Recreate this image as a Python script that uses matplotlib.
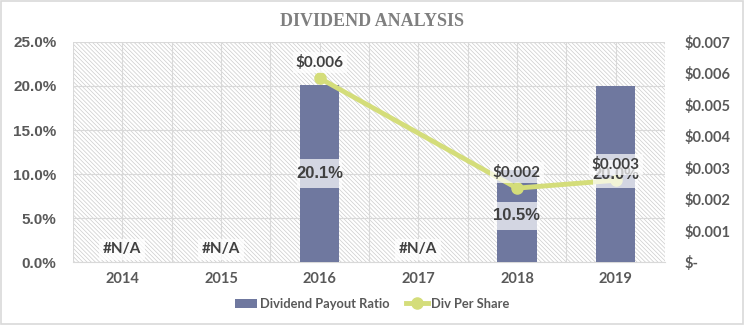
import numpy as np
import matplotlib
matplotlib.use("Agg")
import matplotlib.pyplot as plt
from matplotlib.patches import Rectangle, Patch
from matplotlib.lines import Line2D
from matplotlib.path import Path
from matplotlib.ticker import FuncFormatter

years = ["2014", "2015", "2016", "2017", "2018", "2019"]
payout_ratio = [np.nan, np.nan, 20.1, np.nan, 10.5, 20.0]   # %
div_per_share = [np.nan, np.nan, 0.00585, np.nan, 0.00235, 0.0026]  # $

BAR_COLOR = "#6f789f"
LINE_COLOR = "#d4dd7a"
GRID = "#d9d9d9"
TXT = "#595959"
LABEL_TXT = "#404040"
CAL = ["Lato", "DejaVu Sans"]
ARIAL = ["Liberation Sans", "DejaVu Sans"]

plt.rcParams["hatch.linewidth"] = 0.5


def tall_box(x0, y0, width, height, mutation_size):
    # label box: little side padding, more on top/bottom (like Excel)
    px, py = -0.05 * mutation_size, 0.4 * mutation_size
    x0, x1 = x0 - px, x0 + width + px
    y0, y1 = y0 - py, y0 + height + py
    return Path([(x0, y0), (x1, y0), (x1, y1), (x0, y1), (x0, y0)], closed=True)


def main():
    fig = plt.figure(figsize=(7.44, 3.25), dpi=100)
    ax1 = fig.add_axes([0.0981, 0.1938, 0.7957, 0.677])
    ax2 = ax1.twinx()

    x = np.arange(len(years))
    pr = np.array(payout_ratio)
    dps = np.array(div_per_share)

    # hatched plot background
    ax1.add_patch(Rectangle((0, 0), 1, 1, transform=ax1.transAxes, facecolor="white",
                            edgecolor="#cccccc", hatch="\\" * 8, linewidth=0, zorder=0))

    ax1.bar(x, np.nan_to_num(pr), width=0.4, color=BAR_COLOR, zorder=3)
    ax1.set_xlim(-0.5, len(years) - 0.5)
    ax1.set_ylim(0, 25)
    ax1.set_yticks(np.arange(0, 26, 5))
    ax1.yaxis.set_major_formatter(FuncFormatter(lambda v, p: f"{v:.1f}%"))
    ax1.set_xticks(x)
    ax1.set_xticklabels(years)
    ax1.set_xticks(np.arange(-0.5, len(years), 1.0), minor=True)
    ax1.grid(True, which="both", axis="x", color=GRID, linewidth=0.8, zorder=1)
    ax1.grid(True, which="major", axis="y", color=GRID, linewidth=0.8, zorder=1)
    ax1.set_axisbelow(True)
    ax1.tick_params(which="both", length=0)
    ax1.tick_params(axis="x", pad=7)
    ax1.tick_params(axis="y", pad=12)
    for lab in ax1.get_yticklabels():
        lab.set_fontfamily(ARIAL)
        lab.set_fontweight("bold")
        lab.set_fontsize(11)
        lab.set_color(TXT)
    for lab in ax1.get_xticklabels():
        lab.set_fontfamily(CAL)
        lab.set_fontweight("bold")
        lab.set_fontsize(10.5)
        lab.set_color(TXT)

    ok = ~np.isnan(dps)
    ax2.plot(x[ok], dps[ok], color=LINE_COLOR, linewidth=3.5, marker="o",
             markersize=8, solid_capstyle="round", zorder=4)
    ax2.set_ylim(0, 0.007)
    ax2.set_yticks(np.arange(0, 0.0071, 0.001))
    ax2.yaxis.set_major_formatter(FuncFormatter(lambda v, p: "$-" if abs(v) < 1e-9 else f"${v:.3f}"))
    ax2.tick_params(length=0, pad=14)
    for lab in ax2.get_yticklabels():
        lab.set_fontfamily(CAL)
        lab.set_fontweight("bold")
        lab.set_fontsize(10.5)
        lab.set_color(TXT)

    for ax in (ax1, ax2):
        for s in ax.spines.values():
            s.set_visible(False)
    ax1.spines["bottom"].set_visible(True)
    ax1.spines["bottom"].set_color(GRID)

    # bar data labels
    for xi, v in zip(x, pr):
        if np.isnan(v):
            ax2.annotate("#N/A", (xi, 0), xycoords=ax1.transData, xytext=(0, 4),
                         textcoords="offset points", ha="center", va="bottom",
                         fontfamily=CAL, fontweight="bold", fontsize=11, color=LABEL_TXT,
                         bbox=dict(boxstyle="square,pad=0.25", fc="white", ec="none", alpha=0.75),
                         zorder=6)
        else:
            ax2.text(xi, v / 2, f"{v:.1f}%", transform=ax1.transData, ha="center", va="center",
                     fontfamily=ARIAL, fontweight="bold", fontsize=12, color=LABEL_TXT,
                     bbox=dict(boxstyle=tall_box, fc="white", ec="none", alpha=0.7),
                     zorder=6)

    # line data labels
    for xi, v in zip(x, dps):
        if np.isnan(v):
            continue
        ax2.annotate(f"${v:.3f}", (xi, v), xytext=(0, 6), textcoords="offset points",
                     ha="center", va="bottom", fontfamily=CAL, fontweight="bold",
                     fontsize=11, color=LABEL_TXT,
                     bbox=dict(boxstyle="square,pad=0.2", fc="white", ec="none", alpha=0.7),
                     zorder=7)

    fig.text(0.5, 0.935, "DIVIDEND ANALYSIS", ha="center", va="center",
             fontfamily=["Liberation Serif", "DejaVu Serif"], fontweight="bold",
             fontsize=13, color="#7f7f7f")

    handles = [Patch(facecolor=BAR_COLOR, edgecolor="none"),
               Line2D([], [], color=LINE_COLOR, linewidth=3.5, marker="o", markersize=8)]
    fig.legend(handles, ["Dividend Payout Ratio", "Div Per Share"], loc="center",
               bbox_to_anchor=(0.5, 0.065), ncol=2, frameon=False, handlelength=1.7,
               handletextpad=0.2, columnspacing=1.3,
               prop=dict(family=CAL, weight="bold", size=9.3), labelcolor=TXT)

    fig.patches.append(Rectangle((0.002, 0.003), 0.996, 0.994, transform=fig.transFigure,
                                 fill=False, edgecolor=GRID, linewidth=1.2))

    fig.savefig("out.png", dpi=100)
    plt.close(fig)


if __name__ == "__main__":
    main()
